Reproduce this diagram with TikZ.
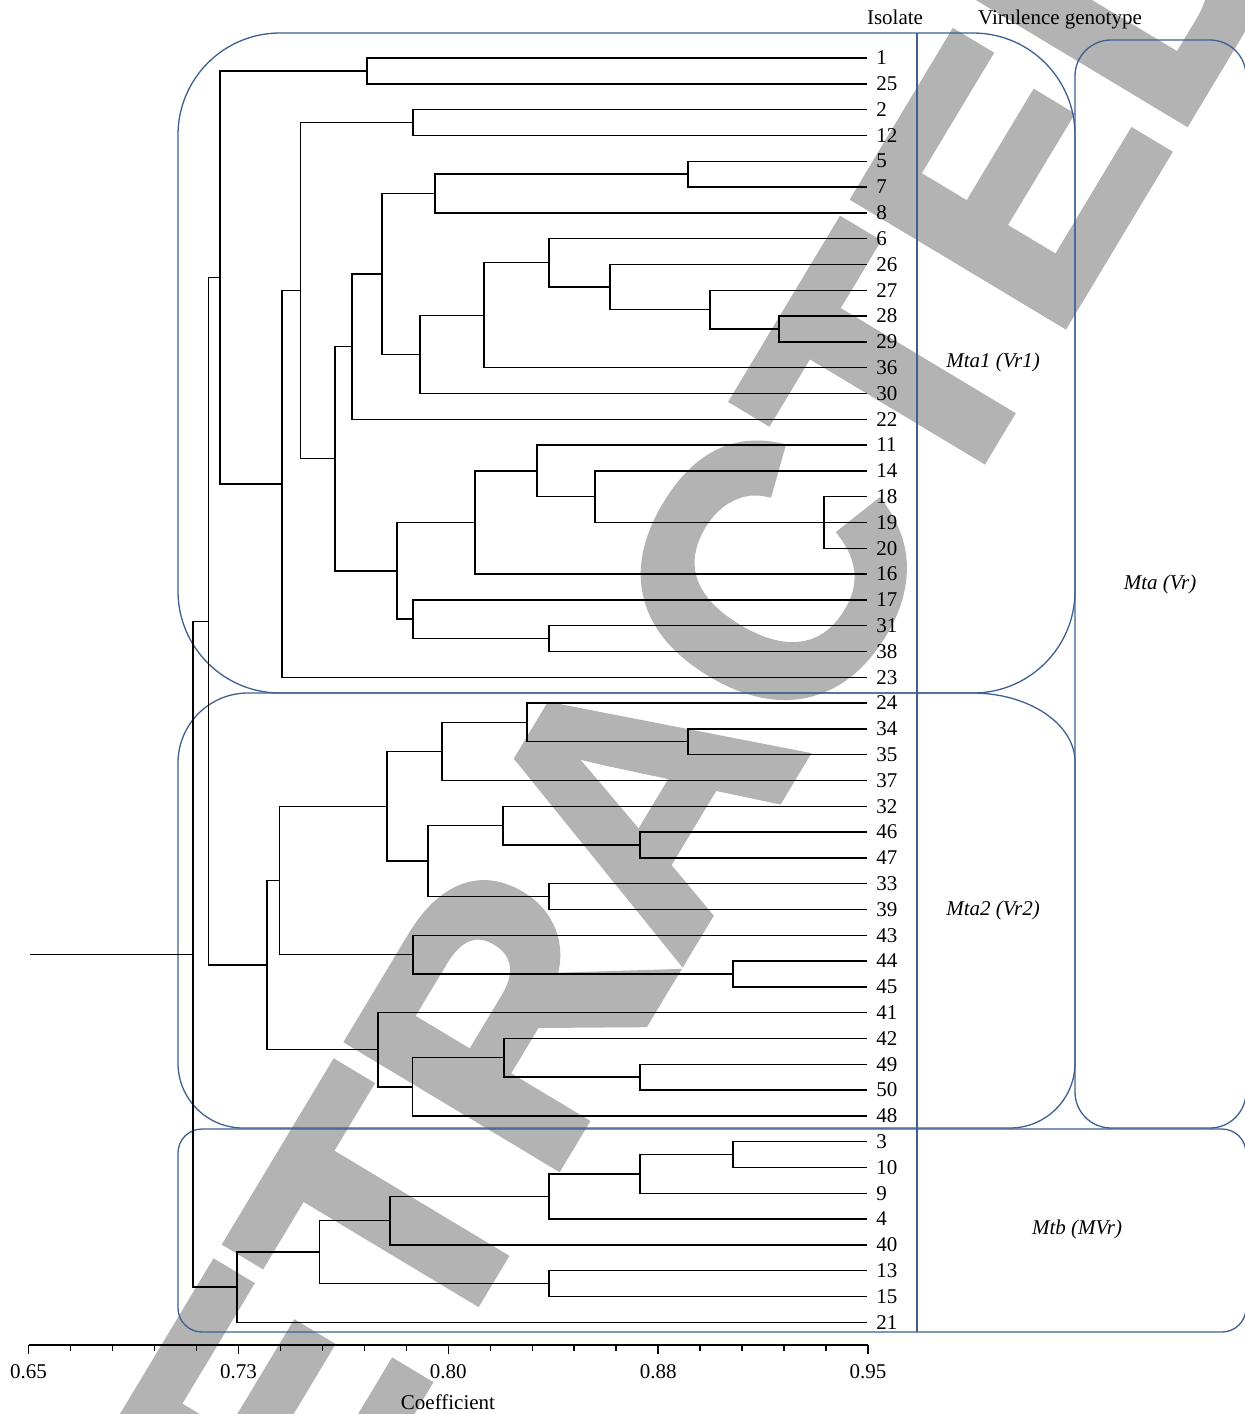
\documentclass[tikz,border=0pt]{standalone}
\usepackage{fontspec}
\setmainfont{Liberation Serif}
\newfontfamily\wmfont{Liberation Sans}[FakeBold=2.5]
\usetikzlibrary{calc}
\definecolor{boxblue}{RGB}{62,96,145}
\definecolor{wmgray}{RGB}{179,179,179}
\tikzset{
  branch/.style={draw=black, line width=0.7pt},
  grp/.style={draw=boxblue, line width=0.65pt},
  axisline/.style={draw=black, line width=0.7pt},
  leaflab/.style={anchor=west, inner sep=0pt, font=\fontsize{10.5}{12}\selectfont},
  ticklab/.style={inner sep=0pt, font=\fontsize{10.5}{12}\selectfont},
  headlab/.style={anchor=base, inner sep=0pt, font=\fontsize{10.5}{12}\selectfont},
  grouplab/.style={anchor=base, inner sep=0pt, font=\fontsize{10.5}{12}\selectfont\itshape},
  watermark/.style={inner sep=0pt, text=wmgray, font=\wmfont\bfseries\fontsize{177}{177}\selectfont}
}
\begin{document}
\begin{tikzpicture}[x=0.5pt,y=-0.5pt]
\useasboundingbox (0,0) rectangle (1245,1414);
% watermark (behind everything)
\begin{scope}
\clip (0,0) rectangle (1245,1414);
\node[watermark, rotate=59] (wm) at (639,795) {RETRACTED};
\end{scope}

% leaves
\foreach \lab [count=\i from 0] in {1,25,2,12,5,7,8,6,26,27,28,29,36,30,22,11,14,18,19,20,16,17,31,38,23,24,34,35,37,32,46,47,33,39,43,44,45,41,42,49,50,48,3,10,9,4,40,13,15,21} {
  \coordinate (l\lab) at (867,{58+25.8*\i});
  \node[leaflab] (t\lab) at (876,{58+25.8*\i}) {\lab};
}

% internal nodes
\coordinate (nR) at (193,954.2);
\coordinate (stub) at (30,954.2);
\coordinate (nMta) at (208.7,621.2);
\coordinate (nMta1) at (220,277.4);
\coordinate (n125) at (367,70.9);
\coordinate (nB) at (282,483.9);
\coordinate (nC) at (300.7,290.6);
\coordinate (n212) at (413,122.5);
\coordinate (nD) at (335,458.7);
\coordinate (nE) at (352,346.55);
\coordinate (nF) at (382,273.9);
\coordinate (nG) at (435,193.45);
\coordinate (n57) at (688,174.1);
\coordinate (nH) at (420,354.3);
\coordinate (nI) at (484,315.2);
\coordinate (nJ) at (549,262.79);
\coordinate (nK) at (610,286.98);
\coordinate (nL) at (710,309.55);
\coordinate (nM) at (779,328.9);
\coordinate (nN) at (397,570.8);
\coordinate (nO) at (475,522.4);
\coordinate (nQ) at (537,470.8);
\coordinate (nRR) at (595,496.6);
\coordinate (n1820) at (824,522.4);
\coordinate (nP) at (413,619.15);
\coordinate (nS) at (549,638.5);
\coordinate (nMta2) at (267,965.05);
\coordinate (nT) at (279.5,880.4);
\coordinate (nV) at (387,806.2);
\coordinate (nX) at (442,751.4);
\coordinate (nZ) at (527,722.35);
\coordinate (n3435) at (688,741.7);
\coordinate (nY) at (428,861);
\coordinate (nAA) at (503,825.55);
\coordinate (n4647) at (640,844.9);
\coordinate (n3339) at (549,896.5);
\coordinate (nW) at (413,954.55);
\coordinate (n4445) at (733,973.9);
\coordinate (nU) at (378,1049.7);
\coordinate (nAB) at (412.5,1086.8);
\coordinate (nAC) at (504,1057.75);
\coordinate (n4950) at (640,1077.1);
\coordinate (nMtb) at (237,1287.1);
\coordinate (nAD) at (319.7,1252);
\coordinate (nAE) at (390,1220.6);
\coordinate (nAF) at (549,1196.4);
\coordinate (nAG) at (640,1173.85);
\coordinate (n310) at (733,1154.5);
\coordinate (n1315) at (549,1283.5);

% group boxes
\draw[grp, rounded corners=51pt] (178,33) rectangle (1075,693);
\draw[grp] (248,693) -- (972,693) .. controls (1028.9,693) and (1075,723.9) .. (1075,762)
  -- (1075,1063) .. controls (1075,1098.9) and (1045.9,1128) .. (1010,1128)
  -- (243,1128) .. controls (207.1,1128) and (178,1098.9) .. (178,1063)
  -- (178,763) .. controls (178,724.3) and (209.3,693) .. (248,693) -- cycle;
\draw[grp, rounded corners=18pt] (1075,40) rectangle (1246,1128);
\draw[grp, rounded corners=12pt] (178,1129) rectangle (1246,1332);
\coordinate (sepTop) at (917,33);
\coordinate (sepBot) at (917,1332);
\draw[grp] (sepTop) -- (sepBot);

% dendrogram
\draw[branch] (stub) -- (nR);
\foreach \p/\c in {nR/nMta, nR/nMtb, nMta/nMta1, nMta/nMta2,
  nMta1/n125, nMta1/nB, n125/l1, n125/l25, nB/nC, nB/l23,
  nC/n212, nC/nD, n212/l2, n212/l12, nD/nE, nD/nN,
  nE/nF, nE/l22, nF/nG, nF/nH, nG/n57, nG/l8, n57/l5, n57/l7,
  nH/nI, nH/l30, nI/nJ, nI/l36, nJ/l6, nJ/nK, nK/l26, nK/nL,
  nL/l27, nL/nM, nM/l28, nM/l29,
  nN/nO, nN/nP, nO/nQ, nO/l16, nQ/l11, nQ/nRR, nRR/l14, nRR/n1820,
  n1820/l18, n1820/l19, n1820/l20, nP/l17, nP/nS, nS/l31, nS/l38,
  nMta2/nT, nMta2/nU, nT/nV, nT/nW, nV/nX, nV/nY, nX/nZ, nX/l37,
  nZ/l24, nZ/n3435, n3435/l34, n3435/l35, nY/nAA, nY/n3339,
  nAA/l32, nAA/n4647, n4647/l46, n4647/l47, n3339/l33, n3339/l39,
  nW/l43, nW/n4445, n4445/l44, n4445/l45,
  nU/l41, nU/nAB, nAB/nAC, nAB/l48, nAC/l42, nAC/n4950, n4950/l49, n4950/l50,
  nMtb/nAD, nMtb/l21, nAD/nAE, nAD/n1315, nAE/nAF, nAE/l40,
  nAF/nAG, nAF/l4, nAG/n310, nAG/l9, n310/l3, n310/l10, n1315/l13, n1315/l15}
  { \draw[branch] (\p) |- (\c); }

% headers and group labels
\node[headlab] (hIso) at (895,24) {Isolate};
\node[headlab] (hVir) at (1060,24) {Virulence genotype};
\node[grouplab] (gMta1) at (993,367) {Mta1 (Vr1)};
\node[grouplab] (gMta2) at (993,915) {Mta2 (Vr2)};
\node[grouplab] (gMta) at (1160,589) {Mta (Vr)};
\node[grouplab] (gMtb) at (1077,1234) {Mtb (MVr)};

% axis
\coordinate (axL) at (28.5,1345);
\coordinate (axR) at (868,1345);
\draw[axisline] (axL) -- (axR);
\foreach \k in {0,...,20} {
  \draw[axisline] ({28.5+41.975*\k},1345) -- ++(0,6);
}
\foreach \k/\v in {0/0.65,5/0.73,10/0.80,15/0.88,20/0.95} {
  \draw[axisline] ({28.5+41.975*\k},1345) -- ++(0,9);
  \node[ticklab] (tk\k) at ({28.5+41.975*\k},1372) {\v};
}
\node[headlab] (coef) at (448,1409) {Coefficient};
\end{tikzpicture}
\end{document}
